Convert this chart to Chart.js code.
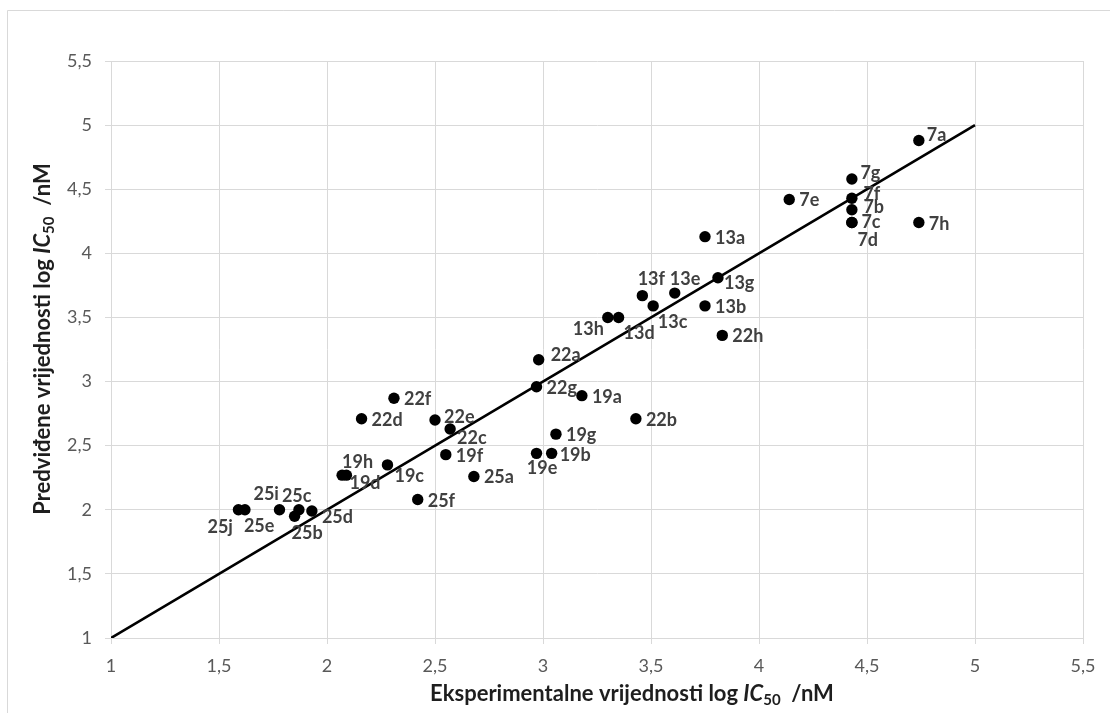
<!DOCTYPE html>
<html>
<head>
<meta charset="utf-8">
<script src="https://cdn.jsdelivr.net/npm/chart.js@4/dist/chart.umd.min.js"></script>
<style>
html,body{margin:0;padding:0;background:#fff;overflow:hidden}
#wrap{position:relative;width:1110px;height:713px}
</style>
</head>
<body>
<div id="wrap"><canvas id="c" width="1110" height="713"></canvas></div>
<script>
// ---- data ----
const compounds = ['7a','7b','7c','7d','7e','7f','7g','7h',
  '13a','13b','13c','13d','13e','13f','13g','13h',
  '19a','19b','19c','19d','19e','19f','19g','19h',
  '22a','22b','22c','22d','22e','22f','22g','22h',
  '25a','25b','25c','25d','25e','25f','25i','25j'];
const experimental = [4.74,4.43,4.43,4.43,4.14,4.43,4.43,4.74,
  3.75,3.75,3.51,3.35,3.61,3.46,3.81,3.30,
  3.18,3.04,2.28,2.09,2.97,2.55,3.06,2.07,
  2.98,3.43,2.57,2.16,2.50,2.31,2.97,3.83,
  2.68,1.85,1.87,1.93,1.62,2.42,1.78,1.59];
const predicted = [4.88,4.34,4.24,4.24,4.42,4.43,4.58,4.24,
  4.13,3.59,3.59,3.50,3.69,3.67,3.81,3.50,
  2.89,2.44,2.35,2.27,2.44,2.43,2.59,2.27,
  3.17,2.71,2.63,2.71,2.70,2.87,2.96,3.36,
  2.26,1.95,2.00,1.99,2.00,2.08,2.00,2.00];
const identityX = [1, 5];
const identityY = [1, 5];
const tickValues = [1,1.5,2,2.5,3,3.5,4,4.5,5,5.5];
const tickLabels = ['1','1,5','2','2,5','3','3,5','4','4,5','5','5,5'];
const xTitle = ['Eksperimentalne vrijednosti log ', 'IC', '50', '  /nM'];
const yTitle = ['Predviđene vrijednosti log ', 'IC', '50', '  /nM'];

// ---- label placement (pixel offsets from point: left edge dx, vertical centre dy) ----
const labelOffsets = {
  '25j':[-31,17], '25e':[-1,15.5], '25i':[-26,-16], '25c':[-17,-14.5], '25b':[-3,16.5], '25d':[10,5],
  '19h':[0,-14], '19d':[3,7.5], '19c':[7,11], '22e':[9,-4], '22c':[7,9], '22a':[12,-5.5],
  '7a':[8,-5.5], '7g':[8.5,-6], '7f':[11.5,-4.3], '7b':[11.5,-3.3], '7c':[9.5,-1], '7d':[5.5,17.3],
  '13h':[-35,11], '13d':[5,15], '13f':[-4.7,-17], '13e':[-5,-14.5], '13c':[4.7,15.5], '13g':[6,5.3],
  '19e':[-9.7,14], '19b':[8,1]
};
const defaultOffset = [10, 0.5];

const points = experimental.map((x, i) => ({x: x, y: predicted[i]}));
const linePts = identityX.map((x, i) => ({x: x, y: identityY[i]}));

function drawRich(ctx, parts, size, cx, cy, rotate) {
  const segs = [
    {t: parts[0], f: 'bold ' + size + 'px Lato', dy: 0},
    {t: parts[1], f: 'italic bold ' + size + 'px Lato', dy: 0},
    {t: parts[2], f: 'bold ' + Math.round(size * 0.66) + 'px Lato', dy: size * 0.2},
    {t: parts[3], f: 'bold ' + size + 'px Lato', dy: 0}
  ];
  let total = 0;
  segs.forEach(s => { ctx.font = s.f; s.w = ctx.measureText(s.t).width; total += s.w; });
  ctx.save();
  ctx.translate(cx, cy);
  if (rotate) ctx.rotate(-Math.PI / 2);
  ctx.fillStyle = '#1e1e1e';
  ctx.textBaseline = 'alphabetic';
  ctx.textAlign = 'left';
  let x = -total / 2;
  segs.forEach(s => { ctx.font = s.f; ctx.fillText(s.t, x, s.dy); x += s.w; });
  ctx.restore();
}

const extras = {
  id: 'extras',
  beforeDraw(chart) {
    const ctx = chart.ctx;
    ctx.save();
    ctx.fillStyle = '#fff';
    ctx.fillRect(0, 0, chart.width, chart.height);
    ctx.strokeStyle = '#d9d9d9';
    ctx.lineWidth = 1;
    ctx.beginPath();
    ctx.moveTo(7.5, 713); ctx.lineTo(7.5, 10.5); ctx.lineTo(1110, 10.5);
    ctx.stroke();
    ctx.restore();
  },
  afterDatasetsDraw(chart) {
    const ctx = chart.ctx;
    const meta = chart.getDatasetMeta(0);
    ctx.save();
    ctx.font = 'bold 18px Lato';
    ctx.fillStyle = '#404040';
    ctx.textAlign = 'left';
    ctx.textBaseline = 'alphabetic';
    meta.data.forEach((el, i) => {
      const name = compounds[i];
      const o = labelOffsets[name] || defaultOffset;
      ctx.fillText(name, el.x + o[0], el.y + o[1] + 6.5);
    });
    ctx.restore();
  },
  afterDraw(chart) {
    const ctx = chart.ctx;
    drawRich(ctx, xTitle, 22, 632, 701, false);
    drawRich(ctx, yTitle, 22, 50, 339, true);
  }
};

const tickCallback = (v) => {
  const i = tickValues.findIndex(t => Math.abs(t - v) < 1e-6);
  return i >= 0 ? tickLabels[i] : '';
};

new Chart(document.getElementById('c'), {
  type: 'scatter',
  data: {
    datasets: [
      {
        data: points,
        pointRadius: 5.7,
        pointHoverRadius: 5.7,
        pointBackgroundColor: '#000',
        pointBorderColor: '#000',
        pointBorderWidth: 0,
        showLine: false
      },
      {
        data: linePts,
        showLine: true,
        borderColor: '#000',
        borderWidth: 2.6,
        pointRadius: 0,
        pointHoverRadius: 0,
        fill: false
      }
    ]
  },
  options: {
    responsive: false,
    animation: false,
    devicePixelRatio: 1,
    layout: {padding: {left: 0, top: 61, right: 27, bottom: 0}},
    plugins: {legend: {display: false}, tooltip: {enabled: false}},
    scales: {
      x: {
        type: 'linear', min: 1, max: 5.5,
        afterFit: (s) => { s.height = 75; },
        afterBuildTicks: (s) => { s.ticks = tickValues.map(v => ({value: v})); },
        grid: {color: '#d9d9d9', lineWidth: 1, tickLength: 6, drawTicks: true},
        border: {color: '#d9d9d9', width: 1},
        ticks: {callback: tickCallback, color: '#595959', font: {family: 'Lato', size: 18}, padding: 11, maxRotation: 0, autoSkip: false}
      },
      y: {
        type: 'linear', min: 1, max: 5.5,
        afterFit: (s) => { s.width = 111; },
        afterBuildTicks: (s) => { s.ticks = tickValues.map(v => ({value: v})); },
        grid: {color: '#d9d9d9', lineWidth: 1, tickLength: 6, drawTicks: true},
        border: {color: '#d9d9d9', width: 1},
        ticks: {callback: tickCallback, color: '#595959', font: {family: 'Lato', size: 18}, padding: 13, autoSkip: false}
      }
    }
  },
  plugins: [extras]
});
</script>
</body>
</html>
